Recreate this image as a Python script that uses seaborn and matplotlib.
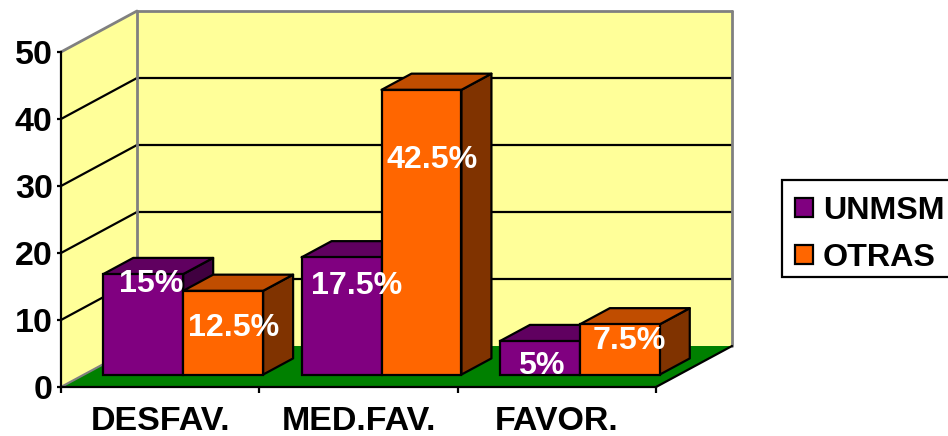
import numpy as np
import pandas as pd
import matplotlib
matplotlib.use('Agg')
import matplotlib.pyplot as plt
from matplotlib.patches import Polygon, Rectangle
from matplotlib.transforms import Affine2D, IdentityTransform
import seaborn as sns

categorias = ['DESFAV.', 'MED.FAV.', 'FAVOR.']
unmsm = [15, 17.5, 5]
otras = [12.5, 42.5, 7.5]
etiquetas_unmsm = ['15%', '17.5%', '5%']
etiquetas_otras = ['12.5%', '42.5%', '7.5%']
y_ticks = [0, 10, 20, 30, 40, 50]

W, H = 948, 436
# profundidad del cubo 3D en pixeles
WALL_DX, WALL_DY = 76, 41
BAR_FRONT, BAR_BACK = 23, 53
LW = 1.6
FONT_AXIS = 24.5
FONT = 23.2

colores = {'UNMSM': '#800080', 'OTRAS': '#FF6600'}
top_col = {'UNMSM': '#600060', 'OTRAS': '#C04D00'}
side_col = {'UNMSM': '#400040', 'OTRAS': '#803300'}

# desplazamiento (px) de cada etiqueta respecto al centro superior de la barra
offset_unmsm = [(8, -10), (15, -28.5), (1, -25)]
offset_otras = [(10, -37.5), (11, -70.5), (10, -16.5)]

sns.set_style('white')
plt.rcParams['font.family'] = ['Liberation Sans', 'DejaVu Sans']
plt.rcParams['font.weight'] = 'bold'

df = pd.DataFrame({
    'cat': categorias * 2,
    'serie': ['UNMSM'] * 3 + ['OTRAS'] * 3,
    'valor': unmsm + otras,
})

fig = plt.figure(figsize=(W / 100, H / 100), dpi=100)
ax = fig.add_axes([61 / W, (H - 387) / H, 595 / W, 335 / H])
ax.patch.set_alpha(0)

sns.barplot(data=df, x='cat', y='valor', hue='serie', palette=colores, order=categorias,
            hue_order=['UNMSM', 'OTRAS'], width=0.806, gap=0, saturation=1,
            edgecolor='black', linewidth=LW, ax=ax)
ax.set_xlim(-0.5, 2.5)
ax.set_ylim(0, 50)
ax.set_xlabel('')
ax.set_ylabel('')


def px(x, y, depth=0):
    # punto de datos a pixeles, empujado hacia el fondo del cubo
    p = ax.transData.transform((x, y))
    return p[0] + depth, p[1] + depth * WALL_DY / WALL_DX


def face(points, color, z, edge='none', lw=LW):
    ax.add_patch(Polygon(points, closed=True, facecolor=color, edgecolor=edge, linewidth=lw,
                         transform=IdentityTransform(), clip_on=False, zorder=z, joinstyle='round'))


def line(p0, p1, color, z, lw=LW):
    ax.plot([p0[0], p1[0]], [p0[1], p1[1]], color=color, lw=lw, transform=IdentityTransform(),
            clip_on=False, zorder=z, solid_capstyle='round')


x0, x1 = -0.5, 2.5
ymax = y_ticks[-1]
# paredes y piso
face([px(x0, 0), px(x0, ymax), px(x0, ymax, WALL_DX), px(x0, 0, WALL_DX)], '#FFFF99', 0.1)
face([px(x0, 0, WALL_DX), px(x0, ymax, WALL_DX), px(x1, ymax, WALL_DX), px(x1, 0, WALL_DX)], '#FFFF99', 0.1)
face([px(x0, 0), px(x1, 0), px(x1, 0, WALL_DX), px(x0, 0, WALL_DX)], '#008000', 0.2)

for t in y_ticks[1:-1]:
    line(px(x0, t), px(x0, t, WALL_DX), 'black', 0.3)
    line(px(x0, t, WALL_DX), px(x1, t, WALL_DX), 'black', 0.3)

gris = '#808080'
line(px(x0, 0), px(x0, 0, WALL_DX), gris, 0.4)
line(px(x0, 0, WALL_DX), px(x0, ymax, WALL_DX), gris, 0.4, 2)
line(px(x0, ymax), px(x0, ymax, WALL_DX), gris, 0.4, 2)
line(px(x0, ymax, WALL_DX), px(x1, ymax, WALL_DX), gris, 0.4, 2)
line(px(x1, ymax, WALL_DX), px(x1, 0, WALL_DX), gris, 0.4, 2)
line(px(x1, 0), px(x1, 0, WALL_DX), 'black', 0.4)

# barras: la cara frontal viene de seaborn, se empuja y se le agregan tapa y costado
frente = Affine2D().translate(BAR_FRONT, BAR_FRONT * WALL_DY / WALL_DX)
series = ['UNMSM', 'OTRAS']
z = 2
for i in range(len(categorias)):
    for serie, cont in zip(series, ax.containers):
        bar = cont.patches[i]
        a, b = bar.get_x(), bar.get_x() + bar.get_width()
        h = bar.get_height()
        face([px(b, 0, BAR_FRONT), px(b, h, BAR_FRONT), px(b, h, BAR_BACK), px(b, 0, BAR_BACK)],
             side_col[serie], z, 'black')
        face([px(a, h, BAR_FRONT), px(b, h, BAR_FRONT), px(b, h, BAR_BACK), px(a, h, BAR_BACK)],
             top_col[serie], z + 0.1, 'black')
        bar.set_transform(ax.transData + frente)
        bar.set_clip_on(False)
        bar.set_zorder(z + 0.2)
        z += 1

for cont, textos, offs in zip(ax.containers, [etiquetas_unmsm, etiquetas_otras], [offset_unmsm, offset_otras]):
    for bar, txt, (ox, oy) in zip(cont.patches, textos, offs):
        cx, cy = px(bar.get_x() + bar.get_width() / 2, bar.get_height(), BAR_FRONT)
        ax.annotate(txt, xy=(cx + ox, cy + oy), xycoords=IdentityTransform(), color='white',
                    fontsize=FONT, fontweight='bold', ha='center', va='center', zorder=50,
                    annotation_clip=False)

for s in ['top', 'right']:
    ax.spines[s].set_visible(False)
for s in ['left', 'bottom']:
    ax.spines[s].set_linewidth(LW)
    ax.spines[s].set_color('black')
    ax.spines[s].set_zorder(1)

ax.set_yticks(y_ticks)
ax.set_xticks(range(len(categorias)))
ax.set_xticklabels(categorias)
ax.set_xticks(np.arange(len(categorias) + 1) - 0.5, minor=True)
ax.tick_params(axis='y', left=True, length=3, width=LW, labelsize=FONT_AXIS, pad=3, color='black', labelcolor='black')
ax.tick_params(axis='x', which='major', bottom=False, length=0, labelsize=FONT_AXIS, pad=14, labelcolor='black')
ax.tick_params(axis='x', which='minor', bottom=True, length=4, width=LW, color='black')

# caja de la leyenda: se sale por la derecha de la figura, igual que el original
fig.add_artist(Rectangle((782, H - 277), 200, 97, facecolor='white', edgecolor='black', linewidth=LW,
                         transform=IdentityTransform(), zorder=5))
sns.move_legend(ax, 'upper left', bbox_to_anchor=(779 / W, (H - 180) / H), bbox_transform=fig.transFigure,
                title=None, fontsize=FONT, frameon=False,
                handlelength=0.55, handleheight=0.55, handletextpad=0.31, borderpad=0.5, labelspacing=0.52,
                borderaxespad=0)
leg = ax.get_legend()
leg.set_zorder(60)
for t in leg.get_texts():
    t.set_color('black')
ax.set_zorder(6)

fig.savefig('out.png', dpi=100)
